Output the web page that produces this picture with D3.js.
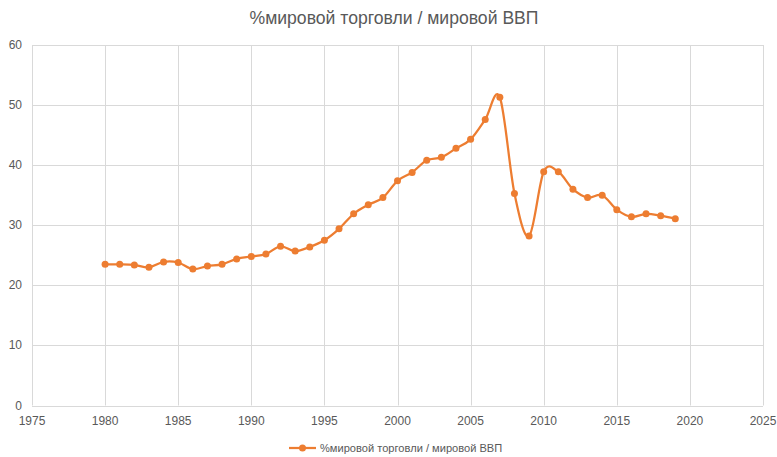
<!DOCTYPE html>
<html><head><meta charset="utf-8">
<script src="https://cdn.jsdelivr.net/npm/d3@7"></script>
<style>body{margin:0;background:#fff;}svg{display:block;font-family:"Liberation Sans",Arial,sans-serif;}</style>
</head><body><svg id="c" width="777" height="457"></svg>
<script>
const years = [1980,1981,1982,1983,1984,1985,1986,1987,1988,1989,1990,1991,1992,1993,1994,1995,1996,1997,1998,1999,2000,2001,2002,2003,2004,2005,2006,2007,2008,2009,2010,2011,2012,2013,2014,2015,2016,2017,2018,2019];
const values = [23.5,23.5,23.4,23.0,23.9,23.8,22.7,23.2,23.5,24.4,24.8,25.2,26.5,25.7,26.4,27.5,29.4,31.9,33.4,34.6,37.4,38.8,40.8,41.3,42.8,44.3,47.6,51.3,35.3,28.2,38.9,38.9,36.0,34.6,35.0,32.6,31.4,31.9,31.6,31.1];
const xTicks = [1975,1980,1985,1990,1995,2000,2005,2010,2015,2020,2025];
const yTicks = [0,10,20,30,40,50,60];
const seriesName = "%мировой торговли / мировой ВВП";
const titleText = "%мировой торговли / мировой ВВП";

const svg = d3.select("#c");
const color = "#ED7D31";
const x = d3.scaleLinear().domain([1975,2025]).range([32,763]);
const y = d3.scaleLinear().domain([0,60]).range([405.5,45]);

const g = svg.append("g");
g.selectAll(".hg").data(yTicks).join("line")
  .attr("x1",x.range()[0]).attr("x2",x.range()[1])
  .attr("y1",d=>Math.round(y(d))+0.5).attr("y2",d=>Math.round(y(d))+0.5)
  .attr("stroke","#d9d9d9").attr("stroke-width",1);
g.selectAll(".vg").data(xTicks).join("line")
  .attr("y1",y.range()[0]).attr("y2",y.range()[1])
  .attr("x1",d=>Math.round(x(d))+0.5).attr("x2",d=>Math.round(x(d))+0.5)
  .attr("stroke","#d9d9d9").attr("stroke-width",1);

g.selectAll(".yl").data(yTicks).join("text")
  .attr("x",22).attr("y",d=>y(d)+4).attr("text-anchor","end")
  .attr("font-size",12).attr("fill","#595959").text(d=>d);
g.selectAll(".xl").data(xTicks).join("text")
  .attr("x",d=>x(d)).attr("y",425).attr("text-anchor","middle")
  .attr("font-size",12).attr("fill","#595959").text(d=>d);

svg.append("text").attr("x",394).attr("y",24).attr("text-anchor","middle")
  .attr("font-size",17.6).attr("fill","#595959").text(titleText);

const data = years.map((yr,i)=>({x:yr,y:values[i]}));
const line = d3.line().x(d=>x(d.x)).y(d=>y(d.y)).curve(d3.curveCatmullRom.alpha(0));
svg.append("path").datum(data).attr("d",line).attr("fill","none")
  .attr("stroke",color).attr("stroke-width",2.25).attr("stroke-linejoin","round");
svg.selectAll(".pt").data(data).join("circle")
  .attr("cx",d=>x(d.x)).attr("cy",d=>y(d.y)).attr("r",3.5).attr("fill",color);

const lg = svg.append("g");
lg.append("line").attr("x1",289).attr("x2",316).attr("y1",448).attr("y2",448)
  .attr("stroke",color).attr("stroke-width",2.25);
lg.append("circle").attr("cx",302.5).attr("cy",448).attr("r",3.5).attr("fill",color);
lg.append("text").attr("x",320).attr("y",452).attr("font-size",11.1).attr("fill","#595959").text(seriesName);
</script></body></html>
